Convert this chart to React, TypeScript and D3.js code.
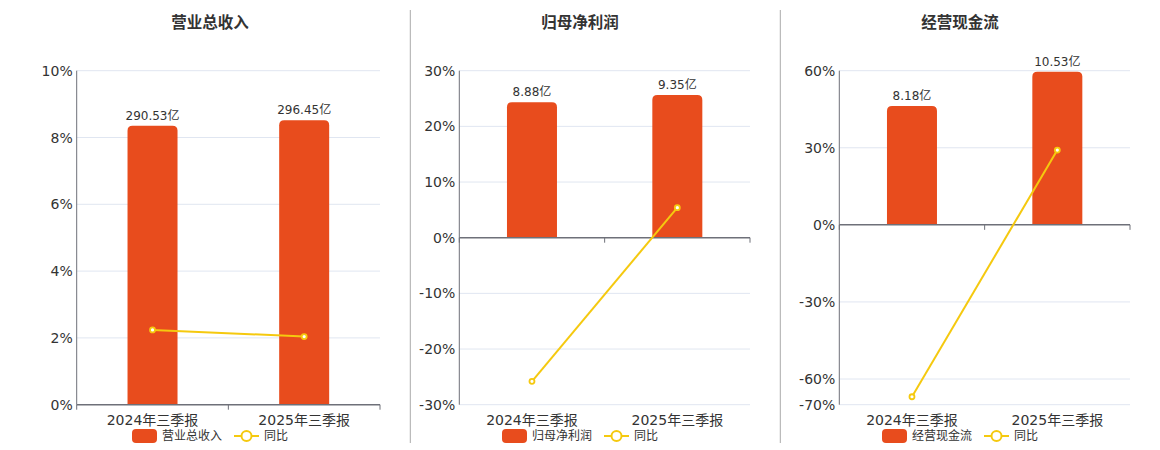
import * as d3 from 'd3';

const categories = ['2024年三季报', '2025年三季报'];
const titles = ['营业总收入', '归母净利润', '经营现金流'];
const revenueValues = [290.53, 296.45];
const profitValues = [8.88, 9.35];
const cashValues = [8.18, 10.53];
const revenueYoy = [2.24, 2.04];
const profitYoy = [-25.8, 5.4];
const cashYoy = [-66.9, 29.1];
const revenueTicks = [0, 2, 4, 6, 8, 10];
const profitTicks = [-30, -20, -10, 0, 10, 20, 30];
const cashTicks = [-70, -60, -30, 0, 30, 60];

const BAR = '#e84c1d';
const LINE = '#f5c90f';
const AXIS = '#6e7079';
const GRID = '#e0e6f1';
const TEXT = '#333';
const FONT = '"DejaVu Sans", "Noto Sans CJK SC", sans-serif';

const panels = [
  { title: titles[0], bars: revenueValues, yoy: revenueYoy, ticks: revenueTicks, barMax: 348, left: 76.7, right: 380, center: 210 },
  { title: titles[1], bars: profitValues, yoy: profitYoy, ticks: profitTicks, barMax: 10.95, left: 459.3, right: 750, center: 580 },
  { title: titles[2], bars: cashValues, yoy: cashYoy, ticks: cashTicks, barMax: 10.6, left: 839.3, right: 1130, center: 960 },
];

const TOP = 70.7;
const BOTTOM = 404.7;

const topRounded = (x: number, y: number, w: number, h: number, r: number) => {
  const rr = Math.min(r, h);
  return `M${x},${y + h}V${y + rr}Q${x},${y} ${x + rr},${y}H${x + w - rr}Q${x + w},${y} ${x + w},${y + rr}V${y + h}Z`;
};

const Panel = ({ p }: { p: (typeof panels)[number] }) => {
  const [pMin, pMax] = d3.extent(p.ticks) as [number, number];
  const y = d3.scaleLinear().domain([pMin, pMax]).range([BOTTOM, TOP]);
  const y0 = y(0);
  // bars share zero with the percent axis
  const barMin = (pMin / pMax) * p.barMax;
  const yb = d3.scaleLinear().domain([barMin, p.barMax]).range([BOTTOM, TOP]);
  const x = d3.scaleBand<string>().domain(categories).range([p.left, p.right]);
  const bw = 50;
  const line = d3
    .line<number>()
    .x((_, i) => x(categories[i])! + x.bandwidth() / 2)
    .y(d => y(d));

  const legendW = 25 + 5 + p.title.length * 12 + 12 + 25 + 5 + 24;
  const lx = p.center - legendW / 2;

  return (
    <g>
      <text x={p.center} y={28} textAnchor="middle" fontSize={15.5} fontWeight="bold" fill={TEXT}>
        {p.title}
      </text>
      {p.ticks.map(t => (
        <g key={t}>
          {t !== 0 && <line x1={p.left} x2={p.right} y1={y(t)} y2={y(t)} stroke={GRID} />}
          <text x={p.left - 4} y={y(t)} dy="0.36em" textAnchor="end" fontSize={14} fill={TEXT}>
            {t}%
          </text>
        </g>
      ))}
      {p.bars.map((v, i) => {
        const cx = x(categories[i])! + x.bandwidth() / 2;
        const top = yb(v);
        return (
          <g key={i}>
            <path d={topRounded(cx - bw / 2, top, bw, y0 - top, 5)} fill={BAR} />
            <text x={cx} y={top - 6} textAnchor="middle" fontSize={12} fill={TEXT}>
              {v.toFixed(2)}亿
            </text>
          </g>
        );
      })}
      <line x1={p.left} x2={p.left} y1={TOP} y2={BOTTOM} stroke={AXIS} />
      <line x1={p.left} x2={p.right} y1={y0} y2={y0} stroke={AXIS} strokeWidth={1.5} />
      {[p.left, p.left + x.bandwidth(), p.right].map((tx, i) => (
        <line key={i} x1={tx} x2={tx} y1={y0} y2={y0 + 5} stroke={AXIS} />
      ))}
      {categories.map(c => (
        <text key={c} x={x(c)! + x.bandwidth() / 2} y={425} textAnchor="middle" fontSize={14} fill={TEXT}>
          {c}
        </text>
      ))}
      <path d={line(p.yoy)!} fill="none" stroke={LINE} strokeWidth={2} />
      {p.yoy.map((v, i) => (
        <circle key={i} cx={x(categories[i])! + x.bandwidth() / 2} cy={y(v)} r={2.5} fill="#fff" stroke={LINE} strokeWidth={1.8} />
      ))}
      <g transform={`translate(${lx},436)`}>
        <rect x={0} y={-7} width={25} height={14} rx={4} fill={BAR} />
        <text x={30} y={0} dy="0.35em" fontSize={12} fill={TEXT}>
          {p.title}
        </text>
        <g transform={`translate(${30 + p.title.length * 12 + 12},0)`}>
          <line x1={0} x2={25} y1={0} y2={0} stroke={LINE} strokeWidth={2} />
          <circle cx={12.5} cy={0} r={5} fill="#fff" stroke={LINE} strokeWidth={2} />
          <text x={30} y={0} dy="0.35em" fontSize={12} fill={TEXT}>
            同比
          </text>
        </g>
      </g>
    </g>
  );
};

const App = () => {
  return (
    <svg
      width={1160}
      height={450}
      style={{ position: 'absolute', left: 0, top: 0, fontFamily: FONT, background: '#fff' }}
    >
      {[410.3, 780.3].map(sx => (
        <line key={sx} x1={sx} x2={sx} y1={10} y2={443} stroke="#aaa" />
      ))}
      {panels.map(p => (
        <Panel key={p.title} p={p} />
      ))}
    </svg>
  );
};

export default App;
